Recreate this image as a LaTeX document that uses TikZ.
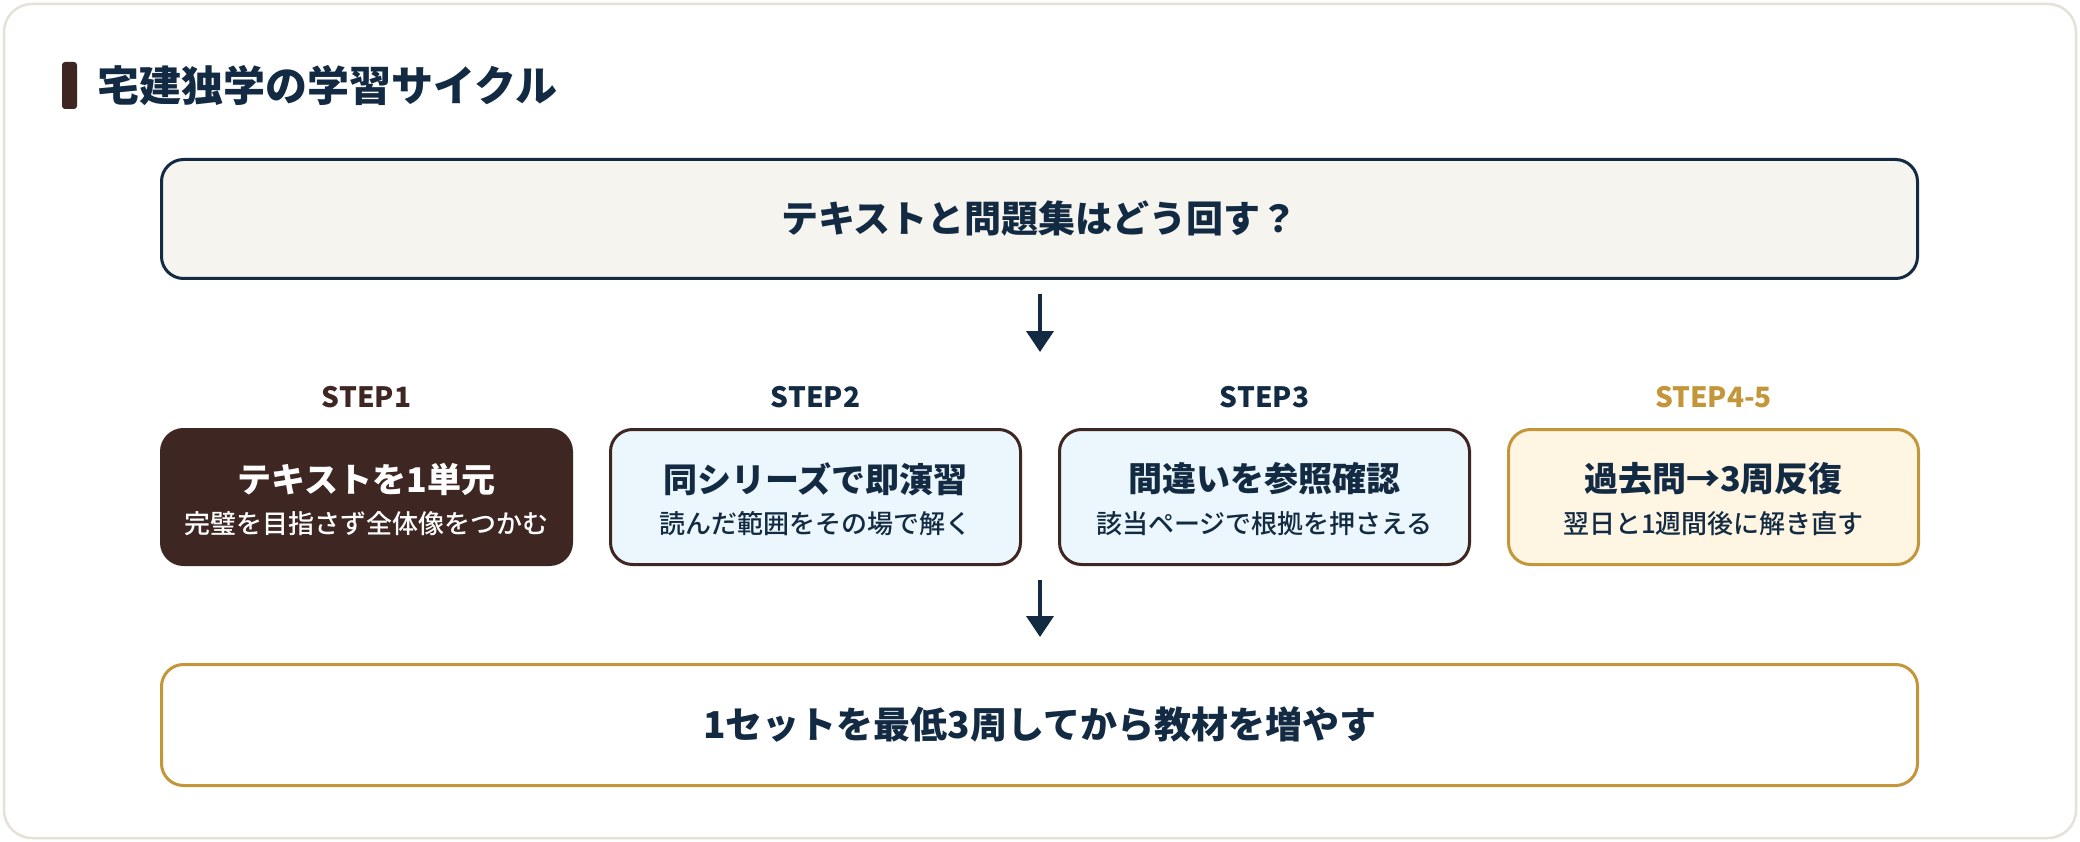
\documentclass[tikz,border=0pt]{standalone}
\usepackage{fontspec}
\setmainfont{Noto Sans CJK JP}
\newfontfamily\medfont{Noto Sans CJK JP Medium}
\usetikzlibrary{arrows.meta,positioning}
\definecolor{navy}{HTML}{132A43}
\definecolor{bark}{HTML}{3E2723}
\definecolor{icefill}{HTML}{EBF7FC}
\definecolor{gold}{HTML}{C4963A}
\definecolor{cream}{HTML}{FFF5E3}
\definecolor{paper}{HTML}{F5F4EF}
\definecolor{frame}{HTML}{E4E2D8}
\tikzset{
  wide/.style={rounded corners=22pt, line width=3pt, minimum width=1756pt, inner sep=0pt,
    text=navy, font=\fontsize{37}{44}\selectfont\bfseries},
  stepbox/.style={draw=bark, line width=3pt, rounded corners=22pt, minimum width=410pt,
    minimum height=135pt, inner sep=0pt},
  steplabel/.style={font=\fontsize{28}{32}\selectfont\bfseries, text=navy, inner sep=0pt},
  maintext/.style={font=\fontsize{34}{40}\selectfont\bfseries, text=navy, inner sep=0pt},
  subtext/.style={font=\fontsize{26}{30}\medfont, text=navy, inner sep=0pt},
  arr/.style={draw=navy, line width=4pt, -{Triangle[length=21pt,width=27pt]}},
}
\begin{document}
\begin{tikzpicture}[x=1pt, y=-1pt, node distance=36pt]
  \useasboundingbox (0,0) rectangle (2080,842);
  \fill[white] (0,0) rectangle (2080,842);
  \draw[frame, line width=2.5pt, rounded corners=28pt] (4,4) rectangle (2076,838);
  % heading
  \fill[bark, rounded corners=3pt] (62,62) rectangle (77,109);
  \node[anchor=west, inner sep=0pt, text=navy, font=\fontsize{42}{48}\selectfont\bfseries]
    (title) at (97,86) {宅建独学の学習サイクル};
  % question
  \node[wide, draw=navy, fill=paper, minimum height=119pt] (q) at (1039.5,219)
    {テキストと問題集はどう回す？};
  % steps
  \node[stepbox, fill=bark] (s1) at (366.5,497) {};
  \node[stepbox, fill=icefill, right=of s1] (s2) {};
  \node[stepbox, fill=icefill, right=of s2] (s3) {};
  \node[stepbox, draw=gold, fill=cream, right=of s3] (s4) {};
  \node[steplabel, text=bark] (l1) at ([yshift=31pt]s1.north) {STEP1};
  \node[steplabel] (l2) at ([yshift=31pt]s2.north) {STEP2};
  \node[steplabel] (l3) at ([yshift=31pt]s3.north) {STEP3};
  \node[steplabel, text=gold] (l4) at ([yshift=31pt]s4.north) {STEP4-5};
  \node[maintext, text=white] (m1) at ([yshift=18pt]s1.center) {テキストを1単元};
  \node[subtext, text=white] (u1) at ([yshift=-27pt]s1.center) {完璧を目指さず全体像をつかむ};
  \node[maintext] (m2) at ([yshift=18pt]s2.center) {同シリーズで即演習};
  \node[subtext] (u2) at ([yshift=-27pt]s2.center) {読んだ範囲をその場で解く};
  \node[maintext] (m3) at ([yshift=18pt]s3.center) {間違いを参照確認};
  \node[subtext] (u3) at ([yshift=-27pt]s3.center) {該当ページで根拠を押さえる};
  \node[maintext] (m4) at ([yshift=18pt]s4.center) {過去問→3周反復};
  \node[subtext] (u4) at ([yshift=-27pt]s4.center) {翌日と1週間後に解き直す};
  % goal
  \node[wide, draw=gold, fill=white, minimum height=121pt] (r) at (1039.5,725)
    {1セットを最低3周してから教材を増やす};
  % arrows
  \coordinate (a1) at (1040,352);
  \coordinate (a2) at (1040,580);
  \draw[arr] ([xshift=0.5pt,yshift=-14pt]q.south) -- (a1);
  \draw[arr] (a2) -- ([xshift=0.5pt,yshift=26pt]r.north);
\end{tikzpicture}
\end{document}
